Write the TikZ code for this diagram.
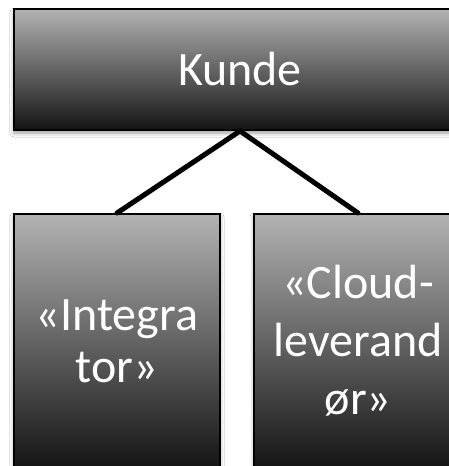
\documentclass[tikz,border=0pt]{standalone}
\usepackage{fontspec}
\setmainfont{Carlito}
\usetikzlibrary{positioning, shadows.blur}

\begin{document}
\begin{tikzpicture}[x=1pt, y=-1pt,
    box/.style={draw=black, line width=2pt, top color=black!30, bottom color=black!92,
      text=white, align=center, inner sep=0pt,
      blur shadow={shadow xshift=0pt, shadow yshift=-3pt, shadow blur radius=4pt, shadow opacity=40}},
    link/.style={line width=5pt, line cap=round}]
\useasboundingbox (0,0) rectangle (449,466);
\clip (0,0) rectangle (449,466);
\fill[white] (0,0) rectangle (449,466);
% boxes
\node[box, minimum width=452pt, minimum height=121pt, font=\fontsize{48}{52}\selectfont] (kunde) at (240,69.5) {Kunde};
\node[box, minimum width=206pt, minimum height=254pt, font=\fontsize{48}{52}\selectfont] (integrator) at (117,341) {«Integra\\tor»};
\node[box, minimum width=208pt, minimum height=254pt, font=\fontsize{48}{58}\selectfont] (cloud) at (358,341) {«Cloud-\\leverand\\ør»};
% links
\draw[link] (kunde.south) -- (integrator.north);
\draw[link] (kunde.south) -- (cloud.north);
\end{tikzpicture}
\end{document}
